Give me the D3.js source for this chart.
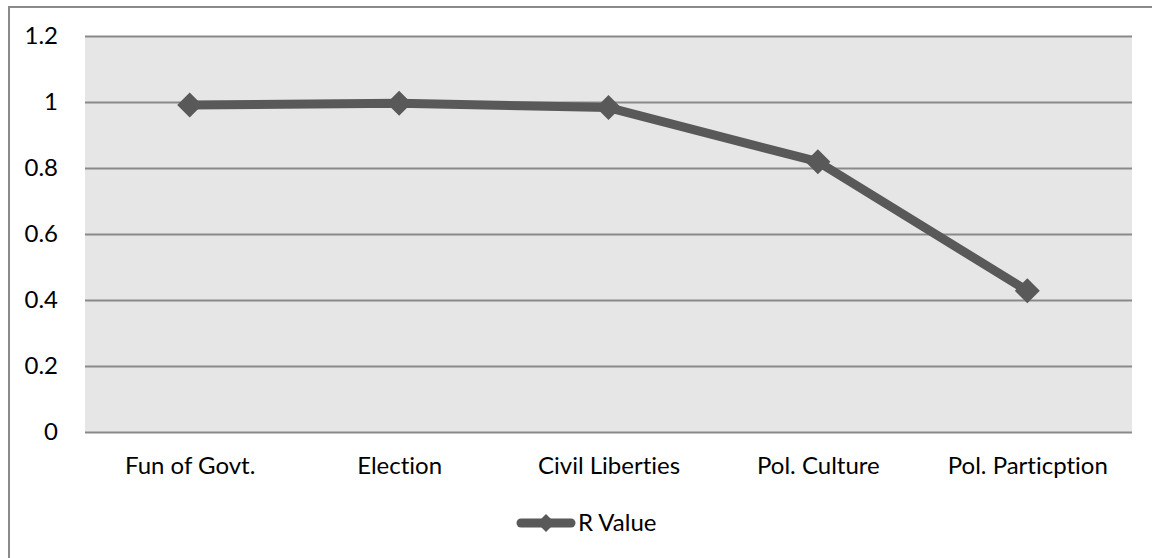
<!DOCTYPE html>
<html>
<head>
<meta charset="utf-8">
<script src="https://cdn.jsdelivr.net/npm/d3@7"></script>
<style>
  html, body { margin: 0; padding: 0; background: #fff; }
  svg { display: block; }
  text { font-family: Lato, "Open Sans", sans-serif; fill: #000; font-variant-ligatures: none; font-feature-settings: "liga" 0, "clig" 0; }
</style>
</head>
<body>
<svg id="chart" width="1152" height="558"></svg>
<script>
// Correlation (R) of each democracy indicator
const categories = ["Fun of Govt.", "Election", "Civil Liberties", "Pol. Culture", "Pol. Particption"];
const rValues = [0.991, 0.996, 0.983, 0.819, 0.428];
const yTicks = [0, 0.2, 0.4, 0.6, 0.8, 1, 1.2];
const seriesName = "R Value";

const W = 1152, H = 558;
const plot = { left: 85, right: 1132, top: 36, bottom: 432 };
const lineColor = "#595959";
const gridColor = "#898989";
const fontSize = 24;

const svg = d3.select("#chart");

// outer frame (left and top edges)
svg.append("path")
  .attr("d", `M9,${H} L9,7 L${W},7`)
  .attr("fill", "none")
  .attr("stroke", "#8a8a8a")
  .attr("stroke-width", 2);

const x = d3.scalePoint().domain(categories).range([plot.left, plot.right]).padding(0.5);
const y = d3.scaleLinear().domain([0, 1.2]).range([plot.bottom, plot.top]);

// plot area background
svg.append("rect")
  .attr("x", plot.left).attr("y", plot.top)
  .attr("width", plot.right - plot.left).attr("height", plot.bottom - plot.top)
  .attr("fill", "#e6e6e6");

// horizontal gridlines + y labels via axis
const yAxis = d3.axisLeft(y)
  .tickValues(yTicks)
  .tickSize(-(plot.right - plot.left))
  .tickPadding(27)
  .tickFormat(d3.format("~g"));

const yg = svg.append("g")
  .attr("transform", `translate(${plot.left},0)`)
  .call(yAxis);
yg.select(".domain").remove();
yg.selectAll(".tick line").attr("stroke", gridColor).attr("stroke-width", 2);
yg.selectAll(".tick text")
  .attr("font-size", fontSize)
  .attr("font-family", "Lato, sans-serif")
  .attr("fill", "#000");

// category labels via axis
const xAxis = d3.axisBottom(x).tickSize(0).tickPadding(25);
const xg = svg.append("g")
  .attr("transform", `translate(0,${plot.bottom})`)
  .call(xAxis);
xg.select(".domain").remove();
xg.selectAll(".tick text")
  .attr("font-size", fontSize)
  .attr("font-family", "Lato, sans-serif")
  .attr("fill", "#000");

// series line
const line = d3.line()
  .x((d, i) => x(categories[i]))
  .y(d => y(d));

svg.append("path")
  .datum(rValues)
  .attr("d", line)
  .attr("fill", "none")
  .attr("stroke", lineColor)
  .attr("stroke-width", 9)
  .attr("stroke-linejoin", "round");

// diamond markers
const diamond = (cx, cy, r) => `M${cx},${cy - r} L${cx + r},${cy} L${cx},${cy + r} L${cx - r},${cy} Z`;
svg.append("g").selectAll("path")
  .data(rValues)
  .join("path")
  .attr("d", (d, i) => diamond(x(categories[i]), y(d), 12.5))
  .attr("fill", lineColor);

// legend
const lg = svg.append("g");
lg.append("line")
  .attr("x1", 521).attr("x2", 571)
  .attr("y1", 523).attr("y2", 523)
  .attr("stroke", lineColor)
  .attr("stroke-width", 9)
  .attr("stroke-linecap", "round");
lg.append("path")
  .attr("d", diamond(546, 523, 9))
  .attr("fill", lineColor);
lg.append("text")
  .attr("x", 578).attr("y", 531)
  .attr("font-size", fontSize)
  .text(seriesName);
</script>
</body>
</html>
